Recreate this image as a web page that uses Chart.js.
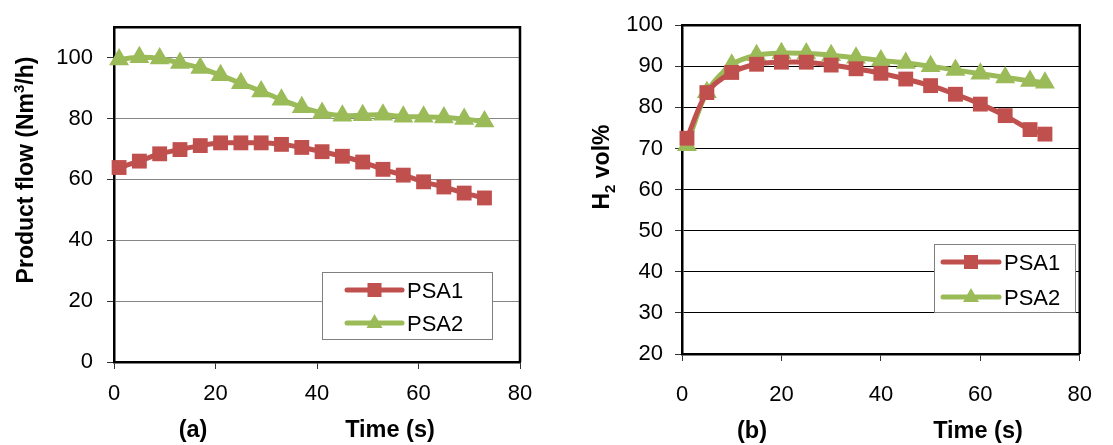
<!DOCTYPE html>
<html><head><meta charset="utf-8">
<script src="https://cdn.jsdelivr.net/npm/chart.js@4.4.1/dist/chart.umd.min.js"></script>
<style>
body{margin:0;background:#fff;width:1113px;height:445px;overflow:hidden;position:relative}
canvas{position:absolute;top:0}
</style></head>
<body>
<canvas id="ca" width="556" height="445" style="left:0"></canvas>
<canvas id="cb" width="557" height="445" style="left:556px"></canvas>
<script>
// ---- data ----
const timeA = [1,5,9,13,17,21,25,29,33,37,41,45,49,53,57,61,65,69,73];
const flowPSA1 = [63.9,66.0,68.4,69.8,71.1,72.0,72.0,72.0,71.5,70.5,69.1,67.6,65.7,63.3,61.4,59.2,57.5,55.5,53.9];
const flowPSA2 = [99.4,100.1,99.7,98.2,96.6,94.2,91.6,88.9,86.2,83.7,81.8,80.9,81.1,81.2,80.6,80.6,80.3,79.8,79.0];
const timeB = [1,5,10,15,20,25,30,35,40,45,50,55,60,65,70,73];
const h2PSA1 = [72.5,83.6,88.5,90.5,91.0,91.0,90.3,89.4,88.3,86.9,85.3,83.2,80.8,78.0,74.6,73.5];
const h2PSA2 = [70.8,83.7,90.4,92.7,93.2,93.1,92.7,92.1,91.4,90.8,90.0,89.1,88.2,87.3,86.4,86.0];
const seriesNames = ['PSA1','PSA2'];
const xTicks = [0,20,40,60,80];
const yTicksA = [0,20,40,60,80,100];
const yTicksB = [20,30,40,50,60,70,80,90,100];

const RED = '#C0504D', GREEN = '#9BBB59';
const FONT = "'Liberation Sans', Arial, sans-serif";

function pts(xs, ys){ return xs.map((x,i)=>({x:x,y:ys[i]})); }

function makeDatasets(y1, y2, xs){
  return [
    {label:seriesNames[0], data:pts(xs,y1), borderColor:RED, backgroundColor:RED, borderWidth:5,
     pointStyle:'rect', pointRadius:10.5, pointBorderWidth:0, pointBackgroundColor:RED, tension:0.3, clip:false},
    {label:seriesNames[1], data:pts(xs,y2), borderColor:GREEN, backgroundColor:GREEN, borderWidth:5,
     pointStyle:'triangle', pointRadius:11.5, pointBorderWidth:0, pointBackgroundColor:GREEN, tension:0.3, clip:false}
  ];
}

function drawMarker(ctx, style, x, y, color){
  ctx.fillStyle = color;
  if(style==='rect'){ ctx.fillRect(x-7, y-7, 14, 14); }
  else { ctx.beginPath(); ctx.moveTo(x, y-9); ctx.lineTo(x+8, y+5); ctx.lineTo(x-8, y+5); ctx.closePath(); ctx.fill(); }
}

const decor = {
  id:'decor',
  beforeDatasetsDraw(chart, args, o){
    const a = chart.chartArea, ctx = chart.ctx;
    ctx.save();
    ctx.strokeStyle = '#000'; ctx.lineWidth = 2.5;
    ctx.beginPath();
    ctx.moveTo(a.left, a.top); ctx.lineTo(a.right, a.top); ctx.lineTo(a.right, a.bottom);
    ctx.stroke();
    ctx.restore();
  },
  afterDraw(chart, args, o){
    const ctx = chart.ctx;
    ctx.save();
    ctx.fillStyle = '#000';
    // x titles
    ctx.font = 'bold 23.5px ' + FONT;
    ctx.textAlign = 'center'; ctx.textBaseline = 'alphabetic';
    ctx.fillText(o.tag, o.tagX, o.titleY);
    ctx.fillText('Time (s)', o.timeX, o.titleY);
    // y title (rotated, with super/subscript pieces)
    ctx.translate(o.yTitleX, o.yTitleY);
    ctx.rotate(-Math.PI/2);
    ctx.textAlign = 'left';
    let total = 0;
    o.yPieces.forEach(p=>{ ctx.font = 'bold ' + p.size + 'px ' + FONT; p.w = ctx.measureText(p.t).width; total += p.w; });
    let cx = -total/2;
    o.yPieces.forEach(p=>{ ctx.font = 'bold ' + p.size + 'px ' + FONT; ctx.fillText(p.t, cx, 8 + p.dy); cx += p.w; });
    ctx.restore();
    // legend
    const L = o.legend;
    ctx.save();
    ctx.fillStyle = '#fff';
    ctx.fillRect(L.x, L.y, L.w, L.h);
    ctx.strokeStyle = '#7f7f7f'; ctx.lineWidth = 1;
    ctx.strokeRect(L.x + 0.5, L.y + 0.5, L.w, L.h);
    chart.data.datasets.forEach((ds, i)=>{
      const ry = L.rows[i];
      ctx.strokeStyle = ds.borderColor; ctx.lineWidth = 5; ctx.lineCap = 'round';
      ctx.beginPath(); ctx.moveTo(L.lx1, ry); ctx.lineTo(L.lx2, ry); ctx.stroke();
      drawMarker(ctx, ds.pointStyle, (L.lx1 + L.lx2)/2, ry, ds.borderColor);
      ctx.fillStyle = '#000';
      ctx.font = '22px ' + FONT; ctx.textAlign = 'left'; ctx.textBaseline = 'alphabetic';
      ctx.fillText(ds.label, L.tx, ry + 8);
    });
    ctx.restore();
  }
};

function makeChart(id, datasets, yMin, yMax, yTicks, cfg){
  return new Chart(document.getElementById(id), {
    type:'line',
    data:{datasets:datasets},
    plugins:[decor],
    options:{
      responsive:false, animation:false, devicePixelRatio:1,
      layout:{padding:{left:0, top:21, right:cfg.padRight, bottom:0}},
      plugins:{legend:{display:false}, tooltip:{enabled:false}, decor:cfg.decor},
      scales:{
        x:{type:'linear', min:0, max:80,
           afterBuildTicks:s=>{ s.ticks = xTicks.map(v=>({value:v})); },
           afterFit:s=>{ s.height = cfg.xHeight; },
           grid:{drawOnChartArea:false, drawTicks:true, tickLength:7, tickColor:'#333', tickWidth:1},
           border:{display:true, color:'#000', width:2.5},
           ticks:{color:'#000', font:{family:FONT, size:22}, padding:cfg.xPad, maxRotation:0}},
        y:{type:'linear', min:yMin, max:yMax,
           afterBuildTicks:s=>{ s.ticks = yTicks.map(v=>({value:v})); },
           afterFit:s=>{ s.width = cfg.yWidth; },
           grid:{color:cfg.gridColor, lineWidth:1, drawTicks:true, tickLength:7, tickColor:'#333', tickWidth:1},
           border:{display:true, color:'#000', width:2.5},
           ticks:{color:'#000', font:{family:FONT, size:22}, padding:cfg.yPad}}
      }
    }
  });
}

makeChart('ca', makeDatasets(flowPSA1, flowPSA2, timeA), 0, 110, yTicksA, {
  padRight:36, xHeight:83, yWidth:114, xPad:12, yPad:14, gridColor:'#868686',
  decor:{tag:'(a)', tagX:193, timeX:390, titleY:437, yTitleX:25, yTitleY:170,
    yPieces:[{t:'Product flow (Nm',size:23,dy:0},{t:'3',size:15,dy:-9},{t:'/h)',size:23,dy:0}],
    legend:{x:322, y:272, w:170, h:67, rows:[290,323], lx1:347, lx2:402, tx:407}}
});

makeChart('cb', makeDatasets(h2PSA1, h2PSA2, timeB), 20, 100, yTicksB, {
  padRight:16, xHeight:91, yWidth:126, xPad:21, yPad:12, gridColor:'#000',
  decor:{tag:'(b)', tagX:196, timeX:422, titleY:438, yTitleX:45, yTitleY:167,
    yPieces:[{t:'H',size:23,dy:0},{t:'2',size:15,dy:6},{t:' vol%',size:23,dy:0}],
    legend:{x:378, y:244, w:141, h:68, rows:[262,297], lx1:387, lx2:443, tx:448}}
});
</script>
</body></html>
